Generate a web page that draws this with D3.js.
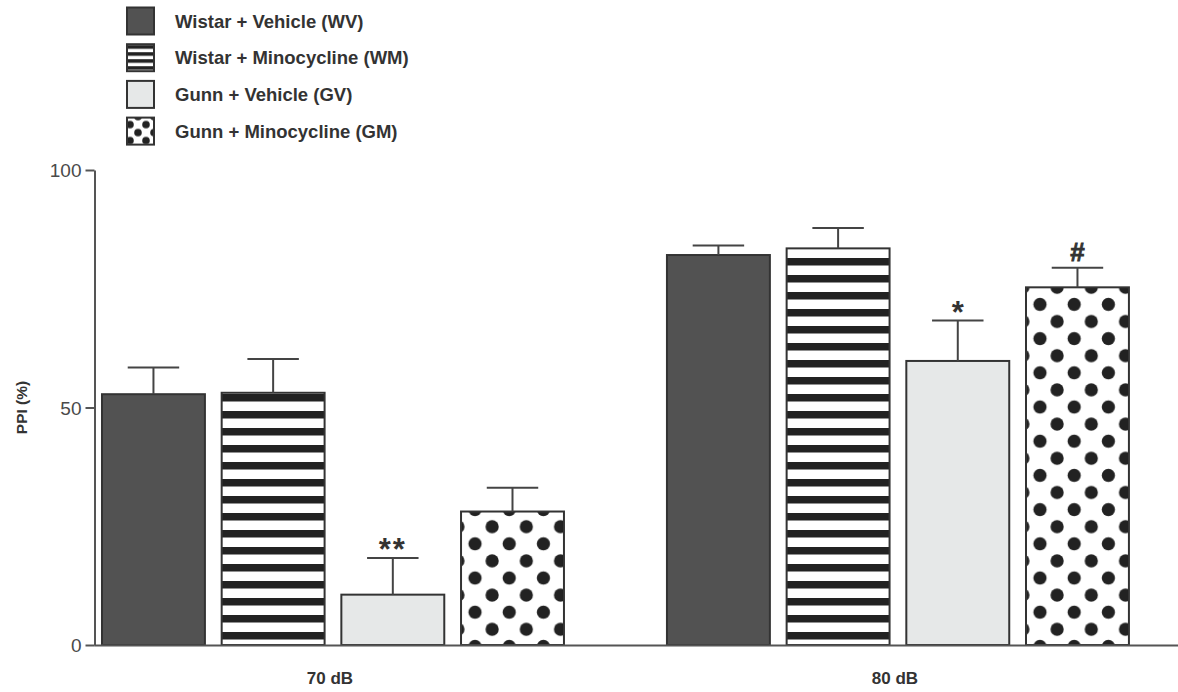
<!DOCTYPE html>
<html>
<head>
<meta charset="utf-8">
<script src="https://cdn.jsdelivr.net/npm/d3@7"></script>
<style>
  body { margin: 0; background: #fff; }
  svg { display: block; font-family: "Liberation Sans", Arial, Helvetica, sans-serif; }
</style>
</head>
<body>
<div id="chart"></div>
<script>
// data
const groups = ['70 dB', '80 dB'];
const seriesKeys = ['WV', 'WM', 'GV', 'GM'];
const seriesNames = ['Wistar + Vehicle (WV)', 'Wistar + Minocycline (WM)', 'Gunn + Vehicle (GV)', 'Gunn + Minocycline (GM)'];
const ppi70 = [52.8, 53.1, 10.6, 28.1];
const sem70 = [5.6, 7.1, 7.7, 5.0];
const ppi80 = [82.1, 83.5, 59.8, 75.3];
const sem80 = [2.0, 4.3, 8.5, 4.1];
const marks70 = ['', '', '**', ''];
const marks80 = ['', '', '*', '#'];
const yTicks = [0, 50, 100];
const yLabel = 'PPI (%)';

const fills = {WV: '#525252', WM: 'url(#stripes)', GV: '#e6e8e8', GM: 'url(#dots)'};
const legendFills = {WV: '#525252', WM: 'url(#stripesSmall)', GV: '#e6e8e8', GM: 'url(#dotsSmall)'};

const width = 1178, height = 692;
const axisColor = '#555';
const ink = '#333';

const rows = [];
[[ppi70, sem70, marks70], [ppi80, sem80, marks80]].forEach(([m, s, k], gi) => {
  seriesKeys.forEach((key, si) => {
    rows.push({group: groups[gi], key: key, mean: m[si], sem: s[si], mark: k[si]});
  });
});

const svg = d3.select('#chart').append('svg')
  .attr('width', width)
  .attr('height', height);

// patterns
const defs = svg.append('defs');
const stripes = defs.append('pattern')
  .attr('id', 'stripes')
  .attr('patternUnits', 'userSpaceOnUse')
  .attr('width', 20).attr('height', 17)
  .attr('y', 3);
stripes.append('rect').attr('width', 20).attr('height', 17).attr('fill', '#fff');
stripes.append('rect').attr('width', 20).attr('height', 7.5).attr('fill', '#222');

const dots = defs.append('pattern')
  .attr('id', 'dots')
  .attr('patternUnits', 'userSpaceOnUse')
  .attr('width', 34.2).attr('height', 34.2)
  .attr('x', 31.1).attr('y', 13.7);
dots.append('rect').attr('width', 34.2).attr('height', 34.2).attr('fill', '#fff');
[[0, 0], [34.2, 0], [0, 34.2], [34.2, 34.2], [17.1, 17.1]].forEach(p => {
  dots.append('circle').attr('cx', p[0]).attr('cy', p[1]).attr('r', 6.6).attr('fill', '#222');
});

const stripesSmall = defs.append('pattern')
  .attr('id', 'stripesSmall')
  .attr('patternUnits', 'userSpaceOnUse')
  .attr('width', 10).attr('height', 7)
  .attr('y', 1);
stripesSmall.append('rect').attr('width', 10).attr('height', 7).attr('fill', '#fff');
stripesSmall.append('rect').attr('width', 10).attr('height', 3.6).attr('fill', '#222');

const dotsSmall = defs.append('pattern')
  .attr('id', 'dotsSmall')
  .attr('patternUnits', 'userSpaceOnUse')
  .attr('width', 16).attr('height', 16)
  .attr('x', 131).attr('y', 119);
dotsSmall.append('rect').attr('width', 16).attr('height', 16).attr('fill', '#fff');
[[0, 0], [16, 0], [0, 16], [16, 16], [8, 8]].forEach(p => {
  dotsSmall.append('circle').attr('cx', p[0]).attr('cy', p[1]).attr('r', 3.8).attr('fill', '#222');
});

// scales
const y = d3.scaleLinear()
  .domain([0, 100])
  .range([645, 170]);

const x0 = d3.scaleBand()
  .domain(groups)
  .range([94, 1178])
  .paddingInner(0.1823)
  .paddingOuter(0.0505)
  .align(0.14);

const x1 = d3.scaleBand()
  .domain(seriesKeys)
  .range([0, x0.bandwidth()])
  .paddingInner(0.14);

// bars
const bars = svg.append('g').selectAll('g')
  .data(rows)
  .enter()
  .append('g')
  .attr('transform', d => `translate(${x0(d.group) + x1(d.key)},0)`);

bars.append('rect')
  .attr('x', 0)
  .attr('y', d => y(d.mean))
  .attr('width', x1.bandwidth())
  .attr('height', d => y(0) - y(d.mean))
  .attr('fill', d => fills[d.key])
  .attr('stroke', ink)
  .attr('stroke-width', 2);

// error bars (upper only)
const bw = x1.bandwidth();
bars.append('line')
  .attr('x1', bw / 2).attr('x2', bw / 2)
  .attr('y1', d => y(d.mean))
  .attr('y2', d => y(d.mean + d.sem))
  .attr('stroke', '#444')
  .attr('stroke-width', 2);

bars.append('line')
  .attr('x1', bw / 4).attr('x2', bw * 3 / 4)
  .attr('y1', d => y(d.mean + d.sem))
  .attr('y2', d => y(d.mean + d.sem))
  .attr('stroke', '#444')
  .attr('stroke-width', 2);

// significance marks
bars.filter(d => d.mark !== '')
  .append('text')
  .attr('x', bw / 2)
  .attr('y', d => y(d.mean + d.sem) + (d.mark === '#' ? -7 : 2))
  .attr('text-anchor', 'middle')
  .attr('font-weight', 'bold')
  .attr('font-size', d => d.mark === '#' ? 26 : 31)
  .attr('letter-spacing', d => d.mark === '**' ? 2 : 0)
  .attr('fill', ink)
  .attr('stroke', d => d.mark === '#' ? ink : 'none')
  .attr('stroke-width', 0.8)
  .text(d => d.mark);

// y axis
const yAxis = svg.append('g')
  .attr('transform', 'translate(94.5,0)')
  .call(d3.axisLeft(y).tickValues(yTicks).tickSize(9).tickSizeOuter(0).tickPadding(4));
yAxis.select('.domain').attr('stroke', axisColor).attr('stroke-width', 2);
yAxis.selectAll('.tick line').attr('stroke', axisColor).attr('stroke-width', 2);
yAxis.selectAll('.tick text')
  .attr('font-size', 19)
  .attr('font-family', '"Liberation Sans", Arial, sans-serif')
  .attr('fill', '#4a4a4a')
  .attr('dy', '0.36em');

// x axis
const xAxis = svg.append('g')
  .attr('transform', `translate(0,${y(0)})`)
  .call(d3.axisBottom(x0).tickSize(0).tickSizeOuter(0).tickPadding(39));
xAxis.select('.domain').attr('stroke', axisColor).attr('stroke-width', 2);
xAxis.selectAll('.tick text')
  .attr('font-size', 17)
  .attr('font-weight', 'bold')
  .attr('font-family', '"Liberation Sans", Arial, sans-serif')
  .attr('fill', ink)
  .attr('dx', -3)
  .attr('dy', 0);

// y label
svg.append('text')
  .attr('transform', `translate(27,${y(50)}) rotate(-90)`)
  .attr('text-anchor', 'middle')
  .attr('font-size', 15.5)
  .attr('font-weight', 'bold')
  .attr('fill', ink)
  .text(yLabel);

// legend
const legend = svg.append('g').selectAll('g')
  .data(seriesKeys)
  .enter()
  .append('g')
  .attr('transform', (d, i) => `translate(127,${7.5 + i * 36.7})`);

legend.append('rect')
  .attr('width', 27)
  .attr('height', 27)
  .attr('fill', d => legendFills[d])
  .attr('stroke', ink)
  .attr('stroke-width', 2);

legend.append('text')
  .attr('x', 48)
  .attr('y', 20)
  .attr('font-size', 18.5)
  .attr('font-weight', 'bold')
  .attr('fill', ink)
  .text((d, i) => seriesNames[i]);
</script>
</body>
</html>
